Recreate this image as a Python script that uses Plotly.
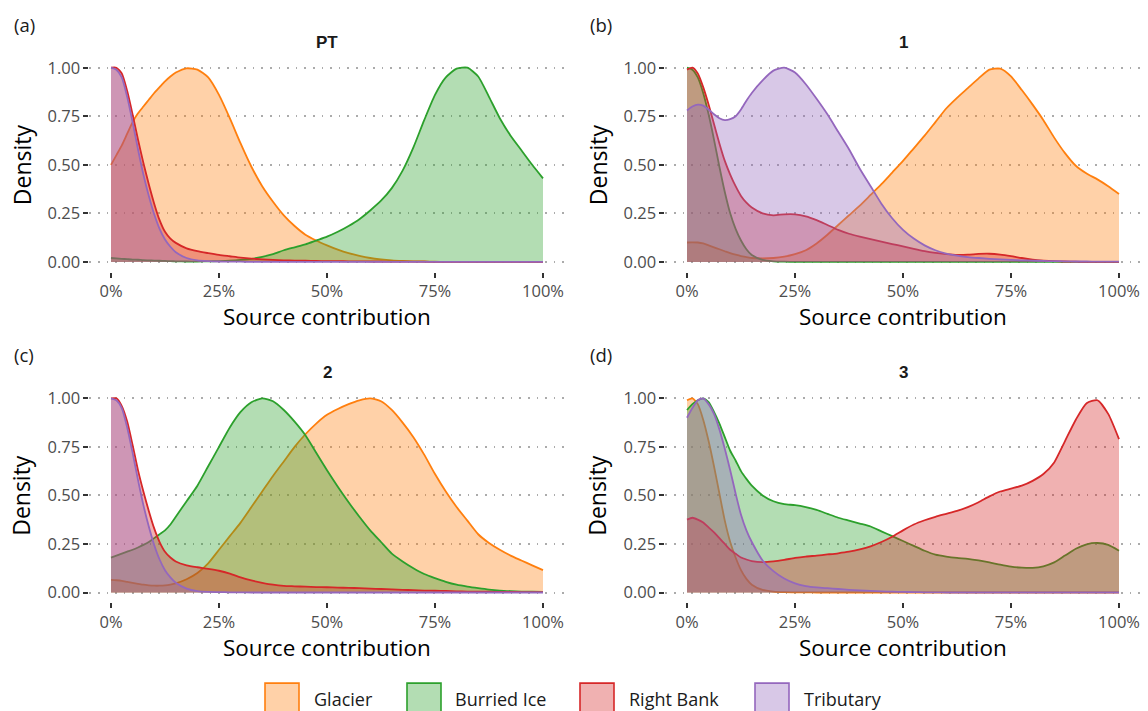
import plotly.graph_objects as go

W, H = 1148, 711

# ---------------- data ----------------
GRID_X = [0, 0.0125, 0.025, 0.0375, 0.05, 0.0625, 0.075, 0.0875, 0.1, 0.1125, 0.125, 0.1375, 0.15,
          0.175, 0.2, 0.225, 0.25, 0.275, 0.3, 0.325, 0.35, 0.375, 0.4,
          0.425, 0.45, 0.475, 0.5, 0.525, 0.55, 0.575, 0.6, 0.625, 0.65,
          0.675, 0.7, 0.725, 0.75, 0.775, 0.8, 0.825, 0.85, 0.875, 0.9,
          0.925, 0.95, 0.975, 1.0]

SOURCES = ["Glacier", "Burried Ice", "Right Bank", "Tributary"]
PANELS = ["PT", "1", "2", "3"]
TAGS = ["(a)", "(b)", "(c)", "(d)"]
X_TICKS = [0, 0.25, 0.5, 0.75, 1.0]
X_TICK_TEXT = ["0%", "25%", "50%", "75%", "100%"]
Y_TICKS = [0, 0.25, 0.5, 0.75, 1.0]
Y_TICK_TEXT = ["0.00", "0.25", "0.50", "0.75", "1.00"]
X_TITLE = "Source contribution"
Y_TITLE = "Density"

# Panel PT
PT_GLACIER = [0.50, 0.55, 0.60, 0.66, 0.72, 0.765, 0.80, 0.835, 0.87, 0.90, 0.93, 0.955, 0.975,
              0.997, 0.99, 0.95, 0.86, 0.74, 0.61, 0.49, 0.39, 0.31, 0.24,
              0.185, 0.14, 0.11, 0.085, 0.063, 0.045, 0.031, 0.02, 0.013, 0.008,
              0.005, 0.003, 0.002, 0.001, 0, 0, 0, 0, 0, 0,
              0, 0, 0, 0]
PT_ICE = [0.02, 0.018, 0.016, 0.014, 0.012, 0.011, 0.009, 0.008, 0.007, 0.006, 0.005, 0.004, 0.003,
          0.002, 0.002, 0.003, 0.004, 0.006, 0.01, 0.016, 0.026, 0.04, 0.06,
          0.075, 0.09, 0.11, 0.13, 0.155, 0.185, 0.22, 0.265, 0.315, 0.38,
          0.47, 0.59, 0.73, 0.86, 0.95, 0.995, 1.0, 0.955, 0.85, 0.74,
          0.65, 0.575, 0.50, 0.43]
PT_RIGHT = [1.0, 1.0, 0.97, 0.88, 0.76, 0.63, 0.51, 0.40, 0.30, 0.215, 0.155, 0.12, 0.098,
            0.07, 0.055, 0.045, 0.036, 0.029, 0.022, 0.017, 0.013, 0.01, 0.008,
            0.007, 0.006, 0.005, 0.004, 0.0035, 0.003, 0.0025, 0.002, 0.002, 0.0015,
            0.001, 0.001, 0.001, 0, 0, 0, 0, 0, 0, 0,
            0, 0, 0, 0]
PT_TRIB = [1.0, 0.99, 0.95, 0.85, 0.72, 0.58, 0.45, 0.34, 0.245, 0.17, 0.115, 0.078, 0.05,
           0.02, 0.008, 0.004, 0.002, 0.001, 0.001, 0, 0, 0, 0,
           0, 0, 0, 0, 0, 0, 0, 0, 0, 0,
           0, 0, 0, 0, 0, 0, 0, 0, 0, 0,
           0, 0, 0, 0]

# Panel 1
P1_GLACIER = [0.10, 0.101, 0.10, 0.095, 0.085, 0.075, 0.065, 0.055, 0.045, 0.037, 0.03, 0.025, 0.02,
              0.018, 0.02, 0.027, 0.04, 0.06, 0.095, 0.14, 0.19, 0.24, 0.29,
              0.345, 0.40, 0.46, 0.52, 0.585, 0.65, 0.72, 0.79, 0.845, 0.895,
              0.945, 0.99, 0.995, 0.955, 0.885, 0.81, 0.73, 0.64, 0.56, 0.495,
              0.455, 0.425, 0.39, 0.35]
P1_ICE = [1.0, 0.99, 0.95, 0.87, 0.76, 0.63, 0.49, 0.36, 0.25, 0.17, 0.11, 0.065, 0.035,
          0.01, 0.003, 0.001, 0, 0, 0, 0, 0, 0, 0,
          0, 0, 0, 0, 0, 0, 0, 0, 0, 0,
          0, 0, 0, 0, 0, 0, 0, 0, 0, 0,
          0, 0, 0, 0]
P1_RIGHT = [0.99, 1.0, 0.97, 0.90, 0.81, 0.71, 0.61, 0.52, 0.45, 0.39, 0.34, 0.305, 0.28,
            0.25, 0.24, 0.245, 0.245, 0.235, 0.215, 0.19, 0.165, 0.145, 0.13,
            0.117, 0.105, 0.092, 0.08, 0.067, 0.055, 0.046, 0.04, 0.036, 0.037,
            0.041, 0.042, 0.038, 0.03, 0.02, 0.012, 0.007, 0.004, 0.002, 0.001,
            0, 0, 0, 0]
P1_TRIB = [0.78, 0.80, 0.81, 0.805, 0.785, 0.76, 0.74, 0.73, 0.735, 0.75, 0.785, 0.83, 0.87,
           0.935, 0.985, 1.0, 0.975, 0.915, 0.84, 0.76, 0.67, 0.58, 0.48,
           0.39, 0.30, 0.225, 0.165, 0.12, 0.085, 0.06, 0.043, 0.032, 0.025,
           0.02, 0.016, 0.013, 0.01, 0.008, 0.007, 0.005, 0.004, 0.003, 0.002,
           0.002, 0.001, 0.001, 0.001]

# Panel 2
P2_GLACIER = [0.065, 0.063, 0.06, 0.055, 0.05, 0.045, 0.04, 0.037, 0.035, 0.035, 0.037, 0.041, 0.047,
              0.068, 0.10, 0.15, 0.22, 0.29, 0.36, 0.44, 0.52, 0.60, 0.675,
              0.75, 0.815, 0.87, 0.915, 0.945, 0.97, 0.99, 1.0, 0.985, 0.94,
              0.875, 0.80, 0.71, 0.61, 0.52, 0.44, 0.37, 0.30, 0.255, 0.22,
              0.19, 0.165, 0.14, 0.115]
P2_ICE = [0.18, 0.19, 0.20, 0.21, 0.22, 0.232, 0.245, 0.26, 0.28, 0.30, 0.32, 0.35, 0.39,
          0.47, 0.55, 0.65, 0.75, 0.85, 0.93, 0.98, 1.0, 0.985, 0.94,
          0.88, 0.81, 0.72, 0.63, 0.545, 0.465, 0.39, 0.32, 0.26, 0.20,
          0.16, 0.125, 0.095, 0.074, 0.055, 0.04, 0.03, 0.022, 0.015, 0.01,
          0.007, 0.005, 0.004, 0.003]
P2_RIGHT = [1.0, 1.0, 0.96, 0.88, 0.76, 0.63, 0.52, 0.42, 0.33, 0.26, 0.21, 0.18, 0.16,
            0.14, 0.13, 0.122, 0.112, 0.097, 0.078, 0.062, 0.05, 0.04, 0.034,
            0.032, 0.03, 0.028, 0.027, 0.025, 0.024, 0.022, 0.02, 0.018, 0.016,
            0.014, 0.012, 0.01, 0.009, 0.008, 0.006, 0.005, 0.004, 0.004, 0.003,
            0.003, 0.002, 0.002, 0.002]
P2_TRIB = [1.0, 0.99, 0.95, 0.85, 0.72, 0.58, 0.45, 0.34, 0.245, 0.17, 0.115, 0.078, 0.05,
           0.02, 0.007, 0.003, 0.002, 0.001, 0.001, 0, 0, 0, 0,
           0, 0, 0, 0, 0, 0, 0, 0, 0, 0,
           0, 0, 0, 0, 0, 0, 0, 0, 0, 0,
           0, 0, 0, 0]

# Panel 3
P3_GLACIER = [0.99, 1.0, 0.97, 0.89, 0.78, 0.65, 0.51, 0.37, 0.26, 0.18, 0.115, 0.07, 0.04,
              0.013, 0.005, 0.002, 0.001, 0.001, 0, 0, 0, 0, 0,
              0, 0, 0, 0, 0, 0, 0, 0, 0, 0,
              0, 0, 0, 0, 0, 0, 0, 0, 0, 0,
              0, 0, 0, 0]
P3_ICE = [0.94, 0.97, 0.99, 1.0, 0.98, 0.93, 0.87, 0.80, 0.73, 0.68, 0.625, 0.585, 0.55,
          0.50, 0.47, 0.455, 0.45, 0.44, 0.425, 0.405, 0.385, 0.37, 0.355,
          0.34, 0.315, 0.29, 0.265, 0.24, 0.215, 0.195, 0.185, 0.178, 0.173,
          0.165, 0.155, 0.143, 0.133, 0.128, 0.127, 0.135, 0.155, 0.19, 0.225,
          0.248, 0.255, 0.245, 0.215]
P3_RIGHT = [0.375, 0.385, 0.375, 0.36, 0.335, 0.31, 0.28, 0.25, 0.22, 0.20, 0.18, 0.17, 0.162,
            0.156, 0.16, 0.168, 0.178, 0.185, 0.19, 0.196, 0.202, 0.21, 0.222,
            0.238, 0.26, 0.287, 0.32, 0.35, 0.372, 0.39, 0.405, 0.42, 0.44,
            0.465, 0.495, 0.52, 0.535, 0.55, 0.575, 0.61, 0.67, 0.78, 0.89,
            0.975, 0.99, 0.92, 0.79]
P3_TRIB = [0.90, 0.95, 0.99, 1.0, 0.97, 0.92, 0.84, 0.74, 0.63, 0.51, 0.40, 0.32, 0.26,
           0.165, 0.11, 0.072, 0.047, 0.033, 0.026, 0.022, 0.018, 0.014, 0.011,
           0.008, 0.006, 0.004, 0.003, 0.002, 0.001, 0.001, 0, 0, 0,
           0, 0, 0, 0, 0, 0, 0, 0, 0, 0,
           0, 0, 0, 0]

PANEL_SERIES = [
    [PT_GLACIER, PT_ICE, PT_RIGHT, PT_TRIB],
    [P1_GLACIER, P1_ICE, P1_RIGHT, P1_TRIB],
    [P2_GLACIER, P2_ICE, P2_RIGHT, P2_TRIB],
    [P3_GLACIER, P3_ICE, P3_RIGHT, P3_TRIB],
]

# ---------------- style ----------------
LINE_COLORS = ["#FF7F0E", "#2CA02C", "#D62728", "#9467BD"]
FILL_COLORS = ["rgba(255,127,14,0.36)", "rgba(44,160,44,0.36)",
               "rgba(214,39,40,0.36)", "rgba(148,103,189,0.36)"]
FONT = "Open Sans"


def px_x(p):
    return p / W


def px_y(p):
    return 1 - p / H


# panel domains in pixels: (x0, x1, ytop, ybottom)
PANEL_BOX = [
    (89.4, 564.6, 56.25, 270.75),
    (665.4, 1140.6, 56.25, 270.75),
    (89.4, 564.6, 388.25, 602.75),
    (665.4, 1140.6, 388.25, 602.75),
]

fig = go.Figure()
annotations = []
shapes = []

for i, (panel, series_list) in enumerate(zip(PANELS, PANEL_SERIES)):
    sfx = "" if i == 0 else str(i + 1)
    for j, vals in enumerate(series_list):
        assert len(vals) == len(GRID_X), (panel, j, len(vals))
        fig.add_trace(go.Scatter(
            x=GRID_X, y=vals, mode="lines",
            line=dict(color=LINE_COLORS[j], width=1.8, shape="spline", smoothing=0.6),
            fill="tozeroy", fillcolor=FILL_COLORS[j],
            name=SOURCES[j], showlegend=False,
            xaxis="x" + sfx, yaxis="y" + sfx,
            hovertemplate=SOURCES[j] + ": %{y:.2f}<extra></extra>",
        ))
    x0, x1, yt, yb = PANEL_BOX[i]
    axis_common = dict(
        showline=False, zeroline=False, ticks="outside", ticklen=5, tickwidth=1.5,
        tickcolor="#333333", tickfont=dict(family=FONT, size=16.5, color="#4D4D4D"),
        fixedrange=True,
    )
    fig.update_layout(**{
        "xaxis" + sfx: dict(
            domain=[px_x(x0), px_x(x1)], range=[-0.05, 1.05],
            tickvals=X_TICKS, ticktext=X_TICK_TEXT, showgrid=False,
            anchor="y" + sfx, **axis_common),
        "yaxis" + sfx: dict(
            domain=[px_y(yb), px_y(yt)], range=[-0.05, 1.05],
            tickvals=Y_TICKS, ticktext=Y_TICK_TEXT, showgrid=True,
            gridcolor="#ABABAB", gridwidth=1.6, griddash="1.6px,7px",
            anchor="x" + sfx, **axis_common),
    })
    cx = (x0 + x1) / 2
    # panel title
    annotations.append(dict(text="<b>" + panel + "</b>", x=px_x(cx), y=px_y(yt - 16),
                            xref="paper", yref="paper", showarrow=False,
                            xanchor="center", yanchor="middle",
                            font=dict(family="Liberation Sans", size=17, color="#1a1a1a")))
    # tag
    annotations.append(dict(text=TAGS[i], x=px_x(x0 - 77), y=px_y(yt - 34),
                            xref="paper", yref="paper", showarrow=False,
                            xanchor="left", yanchor="middle",
                            font=dict(family=FONT, size=18.5, color="#1a1a1a")))
    # axis titles
    annotations.append(dict(text=X_TITLE, x=px_x(cx), y=px_y(yb + 45),
                            xref="paper", yref="paper", showarrow=False,
                            xanchor="center", yanchor="middle",
                            font=dict(family=FONT, size=22.5, color="#000000")))
    annotations.append(dict(text=Y_TITLE, x=px_x(x0 - 68), y=px_y((yt + yb) / 2),
                            xref="paper", yref="paper", showarrow=False, textangle=-90,
                            xanchor="center", yanchor="middle",
                            font=dict(family=FONT, size=23, color="#000000")))

# manual legend (large square keys as in the reference)
LEG_SWATCH_X = [265, 407, 580, 755]
LEG_TEXT_X = [312, 453, 627, 802]
for j, name in enumerate(SOURCES):
    sx = LEG_SWATCH_X[j]
    shapes.append(dict(type="rect", xref="paper", yref="paper",
                       x0=px_x(sx), x1=px_x(sx + 34), y0=px_y(718), y1=px_y(684),
                       fillcolor=FILL_COLORS[j], line=dict(color=LINE_COLORS[j], width=1.6)))
    annotations.append(dict(text=name, x=px_x(LEG_TEXT_X[j]), y=px_y(700),
                            xref="paper", yref="paper", showarrow=False,
                            xanchor="left", yanchor="middle",
                            font=dict(family=FONT, size=18, color="#1a1a1a")))

fig.update_layout(
    width=W, height=H,
    margin=dict(l=0, r=0, t=0, b=0),
    paper_bgcolor="white", plot_bgcolor="white",
    showlegend=False,
    annotations=annotations, shapes=shapes,
    font=dict(family=FONT),
)

fig.write_html(
    "out.html",
    config={"displayModeBar": False},
    post_script="document.body.style.margin='0';document.body.style.padding='0';"
                "document.body.style.overflow='hidden';",
)
